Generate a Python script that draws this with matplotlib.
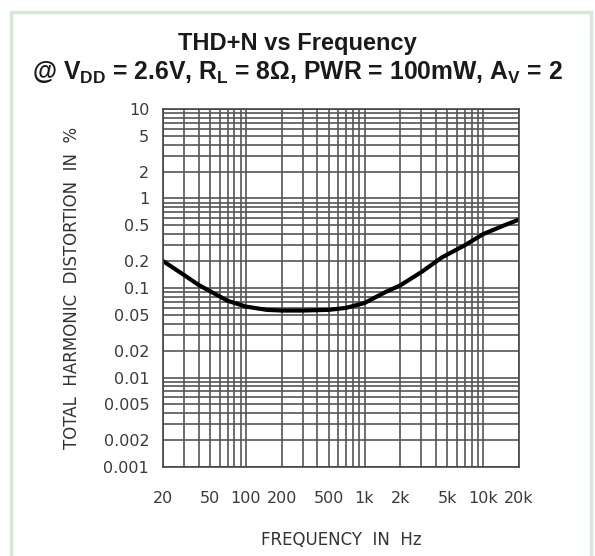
import matplotlib
matplotlib.use("Agg")
import matplotlib.pyplot as plt
from matplotlib.patches import Rectangle
from matplotlib.ticker import FixedLocator, LogLocator, NullFormatter

# -----------------------------
# Data
# -----------------------------
freq_hz = [20, 30, 40, 50, 70, 100, 150, 200, 300, 500, 700, 1000, 1500,
           2000, 3000, 4500, 7000, 10000, 15000, 20000]
thd_pct = [0.2, 0.14, 0.108, 0.092, 0.072, 0.062, 0.057, 0.056, 0.056, 0.057,
           0.06, 0.068, 0.09, 0.107, 0.15, 0.22, 0.3, 0.4, 0.5, 0.58]

x_ticks = [20, 50, 100, 200, 500, 1000, 2000, 5000, 10000, 20000]
x_labels = ["20", "50", "100", "200", "500", "1k", "2k", "5k", "10k", "20k"]
y_ticks = [0.001, 0.002, 0.005, 0.01, 0.02, 0.05, 0.1, 0.2, 0.5, 1, 2, 5, 10]
y_labels = ["0.001", "0.002", "0.005", "0.01", "0.02", "0.05", "0.1", "0.2",
            "0.5", "1", "2", "5", "10"]

# -----------------------------
# Style
# -----------------------------
plt.rcParams["font.family"] = ["Liberation Sans", "DejaVu Sans"]
plt.rcParams["mathtext.fontset"] = "custom"
plt.rcParams["mathtext.rm"] = "Liberation Sans"
plt.rcParams["mathtext.bf"] = "Liberation Sans:bold"

fig = plt.figure(figsize=(5.95, 5.56), dpi=100)
ax = fig.add_axes([0.274, 0.160, 0.598, 0.644])

# light green frame round the whole chart
fig.patches.append(Rectangle((0.019, -0.02), 0.975, 0.998, transform=fig.transFigure,
                             fill=False, edgecolor="#d3e9d3", lw=2.5))

ax.plot(freq_hz, thd_pct, color="black", lw=3, solid_capstyle="round")

ax.set_xscale("log")
ax.set_yscale("log")
ax.set_xlim(20, 20000)
ax.set_ylim(0.001, 10)

ax.xaxis.set_major_locator(FixedLocator(x_ticks))
ax.set_xticklabels(x_labels)
ax.xaxis.set_minor_locator(LogLocator(base=10, subs=range(1, 10), numticks=50))
ax.xaxis.set_minor_formatter(NullFormatter())
ax.yaxis.set_major_locator(FixedLocator(y_ticks))
ax.set_yticklabels(y_labels)
ax.yaxis.set_minor_locator(LogLocator(base=10, subs=range(1, 10), numticks=50))
ax.yaxis.set_minor_formatter(NullFormatter())

ax.grid(True, which="both", color="#555555", lw=1.2)
ax.set_axisbelow(True)
ax.tick_params(which="both", length=0)
ax.tick_params(axis="y", pad=10)
ax.tick_params(axis="x", pad=17)
for lab in ax.get_xticklabels() + ax.get_yticklabels():
    lab.set_fontfamily("DejaVu Sans")
    lab.set_fontsize(11.5)
    lab.set_color("#3a3a3a")
for s in ax.spines.values():
    s.set_color("#444444")
    s.set_linewidth(1.2)

ax.set_xlabel("FREQUENCY  IN  Hz", fontsize=12, color="#333333", labelpad=18,
              family="DejaVu Sans")
ax.set_ylabel("TOTAL  HARMONIC  DISTORTION  IN  %", fontsize=12, color="#333333",
              labelpad=16, family="DejaVu Sans")

fig.text(0.5, 0.922, "THD+N vs Frequency", ha="center", va="center",
         fontsize=17, fontweight="bold", color="#1a1a1a")
fig.text(0.5, 0.868,
         r"@ $\mathbf{V_{DD}}$ = 2.6V, $\mathbf{R_{L}}$ = 8$\mathbf{\Omega}$, PWR = 100mW, $\mathbf{A_{V}}$ = 2",
         ha="center", va="center", fontsize=17.8, fontweight="bold", color="#1a1a1a")

plt.savefig("out.png", dpi=100)
plt.close()
